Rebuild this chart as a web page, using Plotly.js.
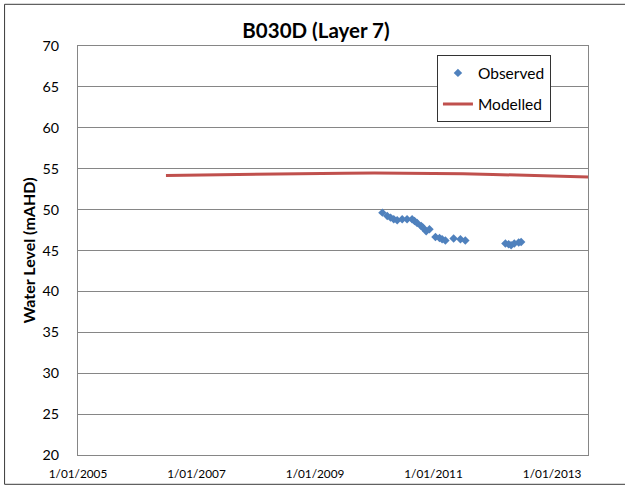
<!DOCTYPE html>
<html>
<head>
<meta charset="utf-8">
<script src="https://cdn.plot.ly/plotly-3.0.1.min.js"></script>
<style>
  html, body { margin: 0; padding: 0; background: #ffffff; }
  #chart { width: 625px; height: 486px; }
</style>
</head>
<body>
<div id="chart"></div>
<script>
// ---------- data ----------
const chartTitle = 'B030D (Layer 7)';
const yAxisTitle = 'Water Level (mAHD)';

const observedDates = [
  '2010-02-20', '2010-03-22', '2010-04-11', '2010-05-01', '2010-05-22',
  '2010-06-22', '2010-07-22', '2010-08-22', '2010-09-06', '2010-09-22',
  '2010-10-17', '2010-10-27', '2010-11-17', '2010-12-07', '2011-01-13',
  '2011-02-07', '2011-02-23', '2011-03-15', '2011-05-05', '2011-06-16',
  '2011-07-16', '2012-03-19', '2012-04-08', '2012-04-23', '2012-05-13',
  '2012-06-09', '2012-06-24'
];
const observedLevels = [
  49.63, 49.22, 49.02, 48.82, 48.70,
  48.82, 48.82, 48.82, 48.61, 48.37,
  48.00, 47.80, 47.35, 47.60, 46.66,
  46.54, 46.38, 46.22, 46.46, 46.38,
  46.22, 45.85, 45.77, 45.65, 45.85,
  45.98, 46.05
];

const modelledDates = [
  '2006-06-27', '2007-01-01', '2007-07-01', '2008-01-01', '2008-07-01',
  '2009-01-01', '2009-07-01', '2010-01-01', '2010-07-01', '2011-01-01',
  '2011-07-01', '2012-01-01', '2012-07-01', '2013-01-01', '2013-07-01',
  '2014-01-01'
];
const modelledLevels = [
  54.18, 54.24, 54.30, 54.35, 54.39,
  54.43, 54.45, 54.46, 54.45, 54.42,
  54.37, 54.30, 54.20, 54.09, 54.00,
  53.92
];

const xTickDates  = ['2005-01-01', '2007-01-01', '2009-01-01', '2011-01-01', '2013-01-01'];
const xTickLabels = ['1/01/2005', '1/01/2007', '1/01/2009', '1/01/2011', '1/01/2013'];
const xRange = ['2005-01-01', '2013-08-10'];
const yTicks = [20, 25, 30, 35, 40, 45, 50, 55, 60, 65, 70];
const yRange = [20, 70];

// ---------- layout geometry (pixels) ----------
const W = 625, H = 486;
const PL = 78, PR = 588.5, PT = 46, PB = 455;
const pw = PR - PL, ph = PB - PT;
const px2paperX = x => (x - PL) / pw;
const px2paperY = y => (PB - y) / ph;

const FONT = 'Lato, "Liberation Sans", Arial, sans-serif';
const GRID = '#868686';

const traces = [
  {
    type: 'scatter',
    mode: 'markers',
    name: 'Observed',
    x: observedDates,
    y: observedLevels,
    legendgroup: 'obs',
    marker: { symbol: 'diamond', size: 6.5, color: '#4F81BD' },
    hoverinfo: 'x+y'
  },
  {
    type: 'scatter',
    mode: 'lines',
    name: 'Modelled',
    x: modelledDates,
    y: modelledLevels,
    legendgroup: 'mod',
    line: { color: '#C0504D', width: 3 },
    hoverinfo: 'x+y'
  }
];

const layout = {
  width: W,
  height: H,
  paper_bgcolor: '#ffffff',
  plot_bgcolor: '#ffffff',
  margin: { l: PL, r: W - PR, t: PT, b: H - PB, pad: 0 },
  font: { family: FONT, color: '#000000', size: 14 },
  title: {
    text: '<b>' + chartTitle + '</b>',
    font: { family: FONT, size: 20.5, color: '#000000' },
    x: 316 / W, xref: 'container', xanchor: 'center',
    y: 1 - 31 / H, yref: 'container', yanchor: 'middle'
  },
  xaxis: {
    type: 'date',
    range: xRange,
    tickmode: 'array',
    tickvals: xTickDates,
    ticktext: xTickLabels,
    ticks: '',
    showgrid: false,
    zeroline: false,
    showline: true,
    mirror: true,
    linecolor: GRID,
    linewidth: 1,
    tickfont: { family: FONT, size: 11.8, color: '#000000' },
    ticklabelstandoff: 8,
    fixedrange: true
  },
  yaxis: {
    range: yRange,
    tickmode: 'array',
    tickvals: yTicks,
    ticks: '',
    showgrid: true,
    gridcolor: GRID,
    gridwidth: 1,
    zeroline: false,
    showline: true,
    mirror: true,
    linecolor: GRID,
    linewidth: 1,
    tickfont: { family: FONT, size: 14.3, color: '#000000' },
    ticklabelstandoff: 15,
    title: {
      text: '<b>' + yAxisTitle + '</b>',
      font: { family: FONT, size: 16, color: '#000000' },
      standoff: 2
    },
    fixedrange: true
  },
  showlegend: true,
  legend: {
    x: px2paperX(437.3),
    y: px2paperY(55.3),
    xanchor: 'left',
    yanchor: 'top',
    bgcolor: '#ffffff',
    bordercolor: '#333333',
    borderwidth: 1,
    font: { family: FONT, size: 15.5, color: '#000000' },
    tracegroupgap: 8,
    itemwidth: 30
  },
  shapes: [
    {
      type: 'rect',
      xref: 'paper', yref: 'paper',
      x0: px2paperX(4.5), x1: px2paperX(640),
      y0: px2paperY(484.3), y1: px2paperY(4.3),
      line: { color: '#3a3a3a', width: 1 },
      fillcolor: 'rgba(0,0,0,0)',
      layer: 'above'
    }
  ]
};

Plotly.newPlot('chart', traces, layout, { staticPlot: true, displayModeBar: false });
</script>
</body>
</html>
